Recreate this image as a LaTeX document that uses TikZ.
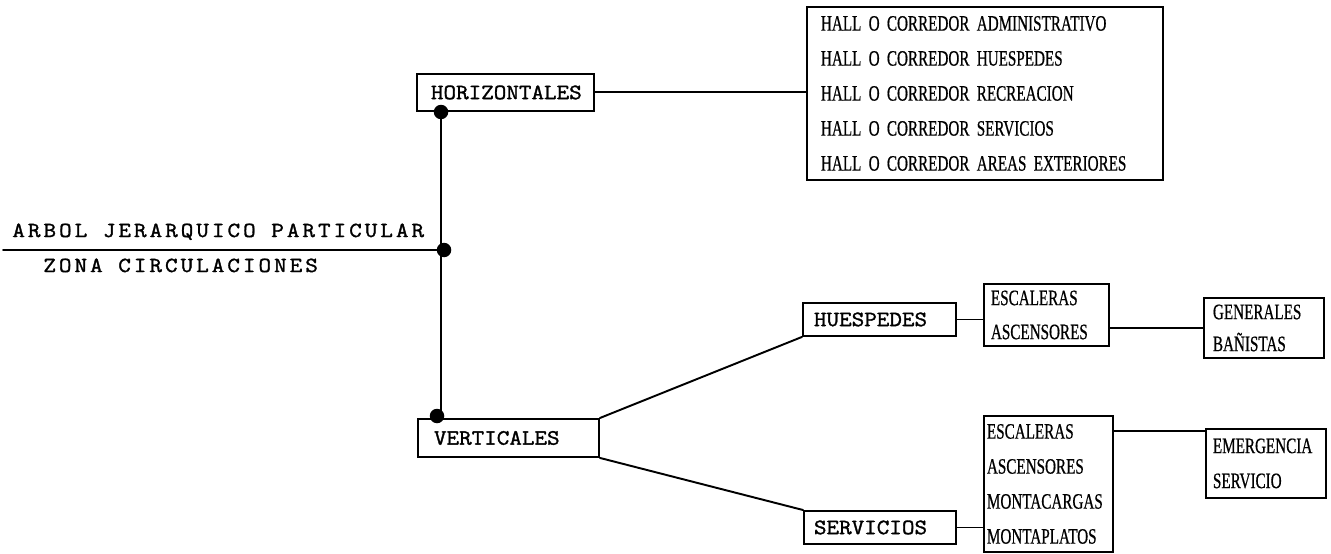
\documentclass[tikz,border=0pt]{standalone}
\usepackage{fontspec}
\newfontfamily\courbox[FakeStretch=1.12,FakeBold=1.5]{Latin Modern Mono}
\newfontfamily\courtitle[FakeStretch=1.14,FakeBold=1.5,LetterSpace=14]{Latin Modern Mono}
\newfontfamily\condserif[FakeStretch=0.69,FakeBold=0.6]{Liberation Serif}
\tikzset{
  ln/.style={line width=1.1pt, line cap=round},
  lbox/.style={draw, line width=1.1pt, anchor=north west, inner ysep=0pt, align=left,
    font=\courbox\fontsize{12.4pt}{14pt}\selectfont},
  lstbox/.style={draw, line width=1.1pt, anchor=north west, inner ysep=0pt, align=left},
  dot/.style={circle, fill=black, inner sep=0pt, minimum size=0.29cm},
  ttl/.style={anchor=base west, inner sep=0pt, font=\courtitle\fontsize{12.2pt}{14pt}\selectfont}
}
\begin{document}
\begin{tikzpicture}[x=0.02cm, y=-0.02cm]
\useasboundingbox (0,0) rectangle (1331,554);

% title
\node[ttl] (t1) at (12,237) {ARBOL JERARQUICO PARTICULAR};
\node[ttl] (t2) at (43,272) {ZONA CIRCULACIONES};
\coordinate (tl) at (3,250);

% first level
\node[lbox, minimum width=3.54cm, minimum height=0.74cm, inner xsep=0.28cm, text width=2.98cm] (hor) at (416,73) {HORIZONTALES};
\node[lbox, minimum width=3.62cm, minimum height=0.76cm, inner xsep=0.32cm, text width=2.98cm] (ver) at (417,418) {VERTICALES};

% dots
\node[dot] (dtop) at (441,112) {};
\node[dot] (dmid) at (444,250) {};
\node[dot] (dbot) at (437,416) {};

% horizontal list
\node[lstbox, minimum width=7.12cm, minimum height=3.46cm, inner xsep=0.28cm, text width=6.56cm,
  font=\condserif\fontsize{12.5pt}{19.92pt}\selectfont] (big) at (806,6)
  {HALL O CORREDOR ADMINISTRATIVO\\HALL O CORREDOR HUESPEDES\\HALL O CORREDOR RECREACION\\HALL O CORREDOR SERVICIOS\\HALL O CORREDOR AREAS EXTERIORES};

% vertical branch
\node[lbox, minimum width=3.06cm, minimum height=0.66cm, inner xsep=0.22cm, text width=2.62cm] (hue) at (802,302) {HUESPEDES};
\node[lbox, minimum width=3.04cm, minimum height=0.66cm, inner xsep=0.2cm, text width=2.64cm] (ser) at (803,510) {SERVICIOS};

\node[lstbox, minimum width=2.5cm, minimum height=1.24cm, inner xsep=0.14cm, text width=2.22cm,
  font=\condserif\fontsize{12.5pt}{19.35pt}\selectfont] (esc1) at (983,283)
  {ESCALERAS\\ASCENSORES};
\node[lstbox, minimum width=2.58cm, minimum height=2.72cm, inner xsep=0.06cm, text width=2.46cm,
  font=\condserif\fontsize{12.5pt}{19.92pt}\selectfont] (esc2) at (983,415)
  {ESCALERAS\\ASCENSORES\\MONTACARGAS\\MONTAPLATOS};

\node[lstbox, minimum width=2.4cm, minimum height=1.2cm, inner xsep=0.18cm, text width=2.04cm,
  font=\condserif\fontsize{12.5pt}{18.2pt}\selectfont] (gen) at (1203,297)
  {GENERALES\\BAÑISTAS};
\node[lstbox, minimum width=2.4cm, minimum height=1.38cm, inner xsep=0.14cm, text width=2.12cm,
  font=\condserif\fontsize{12.5pt}{19.92pt}\selectfont] (emer) at (1205,428)
  {EMERGENCIA\\SERVICIO};
\coordinate (eline) at (1205,431);

% connectors
\draw[ln] (tl) -- (dmid.center);
\draw[ln] (dtop.center) -- (dtop.center |- dbot.center) -- (dbot.center);
\draw[ln] (hor.east) -- (hor.east -| big.west);
\draw[ln] (ver.north east) -- (hue.south west);
\draw[ln] (ver.south east) -- (ser.north west);
\draw[ln] (hue.east) -- (hue.east -| esc1.west);
\draw[ln] (ser.east) -- (ser.east -| esc2.west);
\draw[ln] (gen.west -| esc1.east) -- (gen.west);
\draw[ln] (eline -| esc2.east) -- (eline);
\end{tikzpicture}
\end{document}
